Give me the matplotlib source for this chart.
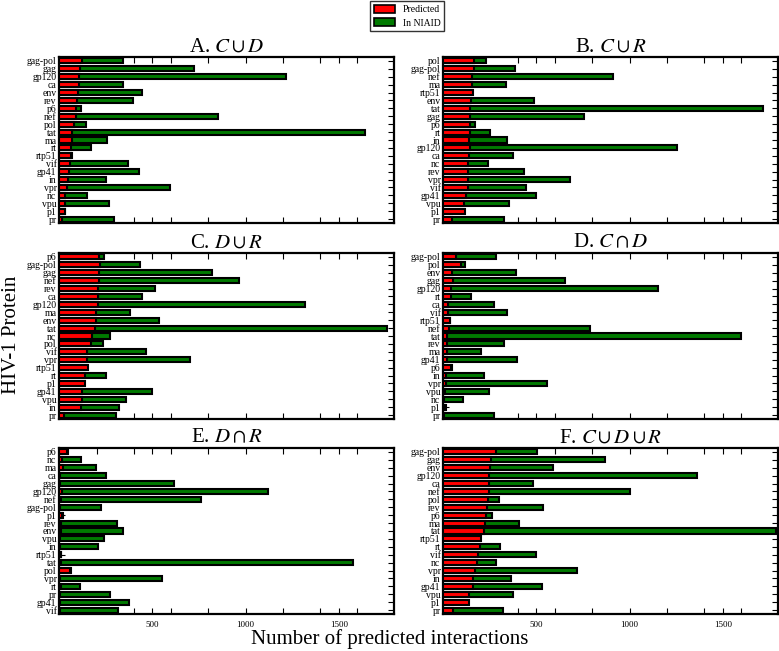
import matplotlib
matplotlib.use("Agg")
import matplotlib.pyplot as plt
from matplotlib.patches import Patch
from matplotlib.ticker import FixedLocator

plt.rcParams['font.family'] = ['Liberation Serif', 'DejaVu Serif']
plt.rcParams['mathtext.fontset'] = 'stix'

# ---- data ----
cats_A = ["gag-pol", "gag", "gp120", "ca", "env", "rev", "p6", "nef", "pol", "tat", "ma",
          "rt", "rtp51", "vif", "gp41", "in", "vpr", "nc", "vpu", "p1", "pr"]
pred_A = [120, 111, 107, 107, 102, 97, 90, 90, 79, 70, 66, 63, 61, 57, 54, 45, 43, 30, 30, 28, 13]
niaid_A = [344, 722, 1219, 344, 443, 398, 118, 849, 143, 1643, 254, 172, 66, 371, 428, 249, 593, 147, 267, 32, 294]

cats_B = ["pol", "gag-pol", "nef", "ma", "rtp51", "env", "tat", "gag", "p6", "rt", "in",
          "gp120", "ca", "nc", "rev", "vpr", "vif", "gp41", "vpu", "p1", "pr"]
pred_B = [167, 163, 154, 154, 158, 149, 145, 143, 142, 142, 140, 142, 136, 134, 134, 131, 131, 122, 113, 118, 45]
niaid_B = [229, 383, 910, 339, 0, 487, 1717, 753, 168, 251, 344, 1254, 373, 238, 434, 679, 443, 495, 351, 0, 324]

cats_C = ["p6", "gag-pol", "gag", "nef", "rev", "ca", "gp120", "ma", "env", "tat", "nc",
          "pol", "vif", "vpr", "rtp51", "rt", "p1", "gp41", "vpu", "in", "pr"]
pred_C = [215, 217, 213, 213, 210, 208, 208, 199, 199, 192, 174, 170, 151, 151, 152, 140, 136, 120, 120, 118, 27]
niaid_C = [242, 435, 821, 966, 512, 444, 1317, 382, 534, 1760, 274, 235, 466, 699, 0, 251, 0, 496, 358, 321, 305]

cats_D = ["gag-pol", "pol", "env", "gag", "gp120", "rt", "ca", "vif", "rtp51", "nef", "tat",
          "rev", "ma", "gp41", "p6", "in", "vpr", "vpu", "nc", "p1", "pr"]
pred_D = [66, 95, 45, 50, 41, 41, 27, 27, 34, 30, 18, 18, 20, 20, 40, 13, 13, 10, 5, 8, 3]
niaid_D = [283, 116, 389, 654, 1152, 147, 274, 344, 38, 785, 1598, 324, 204, 394, 47, 219, 559, 247, 108, 12, 274]

cats_E = ["p6", "nc", "ma", "ca", "gag", "gp120", "nef", "gag-pol", "p1", "rev", "env",
          "vpu", "in", "rtp51", "tat", "pol", "vpr", "rt", "pr", "gp41", "vif"]
pred_E = [40, 13, 18, 5, 5, 15, 10, 5, 15, 8, 8, 5, 5, 8, 10, 55, 5, 8, 5, 5, 5]
niaid_E = [45, 118, 199, 249, 618, 1122, 763, 226, 18, 308, 342, 242, 206, 9, 1575, 63, 550, 111, 274, 376, 314]

cats_F = ["gag-pol", "gag", "env", "gp120", "ca", "nef", "pol", "rev", "p6", "ma", "tat",
          "rtp51", "rt", "vif", "nc", "vpr", "in", "gp41", "vpu", "p1", "pr"]
pred_F = [283, 256, 251, 247, 246, 244, 238, 233, 229, 222, 217, 201, 195, 186, 179, 172, 159, 158, 138, 140, 50]
niaid_F = [505, 866, 588, 1360, 484, 1000, 301, 534, 263, 405, 1788, 0, 303, 500, 281, 717, 362, 532, 373, 0, 323]

titles = [r"A. $C\cup D$", r"B. $C\cup R$", r"C. $D\cup R$",
          r"D. $C\cap D$", r"E. $D\cap R$", r"F. $C\cup D\cup R$"]
panels = [(cats_A, pred_A, niaid_A), (cats_B, pred_B, niaid_B), (cats_C, pred_C, niaid_C),
          (cats_D, pred_D, niaid_D), (cats_E, pred_E, niaid_E), (cats_F, pred_F, niaid_F)]

RED = "#ff0000"
GREEN = "#007a00"

fig = plt.figure(figsize=(7.79, 6.51), dpi=100)
W, H = 779.0, 651.0
col_left = [59.3, 443.3]
col_w = 334.5
row_top = [57, 253, 448]
row_h = 166

for i, ((cats, pred, niaid), title) in enumerate(zip(panels, titles)):
    r, c = divmod(i, 2)
    ax = fig.add_axes([col_left[c] / W, 1 - (row_top[r] + row_h) / H, col_w / W, row_h / H])
    y = list(range(len(cats)))
    ax.barh(y, niaid, height=0.64, color=GREEN, edgecolor="black", linewidth=1.5, zorder=2)
    ax.barh(y, pred, height=0.64, color=RED, edgecolor="black", linewidth=1.5, zorder=3)
    ax.set_yticks(y)
    ax.set_yticklabels(cats, fontsize=7)
    ax.set_ylim(len(cats) - 0.5, -0.5)
    ax.set_xlim(0, 1795)
    ax.xaxis.set_major_locator(FixedLocator([500, 1000, 1500]))
    ax.xaxis.set_minor_locator(FixedLocator([200, 400, 600, 800, 1200, 1400, 1600]))
    ax.tick_params(axis="both", which="both", direction="in", top=True, right=True,
                   length=4, width=0.8, pad=2)
    ax.tick_params(axis="x", labelsize=6.5, pad=5)
    if r < 2:
        ax.tick_params(axis="x", labelbottom=False)
    for s in ax.spines.values():
        s.set_linewidth(1.6)
    ax.set_title(title, fontsize=15, pad=4)

fig.text(390 / W, 1 - 639 / H, "Number of predicted interactions", fontsize=15,
         ha="center", va="center")
fig.text(12 / W, 1 - 335 / H, "HIV-1 Protein", fontsize=15, rotation=90,
         ha="center", va="center")

handles = [Patch(facecolor=RED, edgecolor="black", linewidth=1.2, label="Predicted"),
           Patch(facecolor=GREEN, edgecolor="black", linewidth=1.2, label="In NIAID")]
fig.legend(handles=handles, loc="upper center", bbox_to_anchor=(407 / W, 1.0),
           fontsize=7, frameon=True, fancybox=False, edgecolor="black",
           handlelength=2.2, handleheight=0.9, borderpad=0.4, labelspacing=0.4,
           handletextpad=0.8, borderaxespad=0.1)

fig.savefig("out.png", dpi=100)
